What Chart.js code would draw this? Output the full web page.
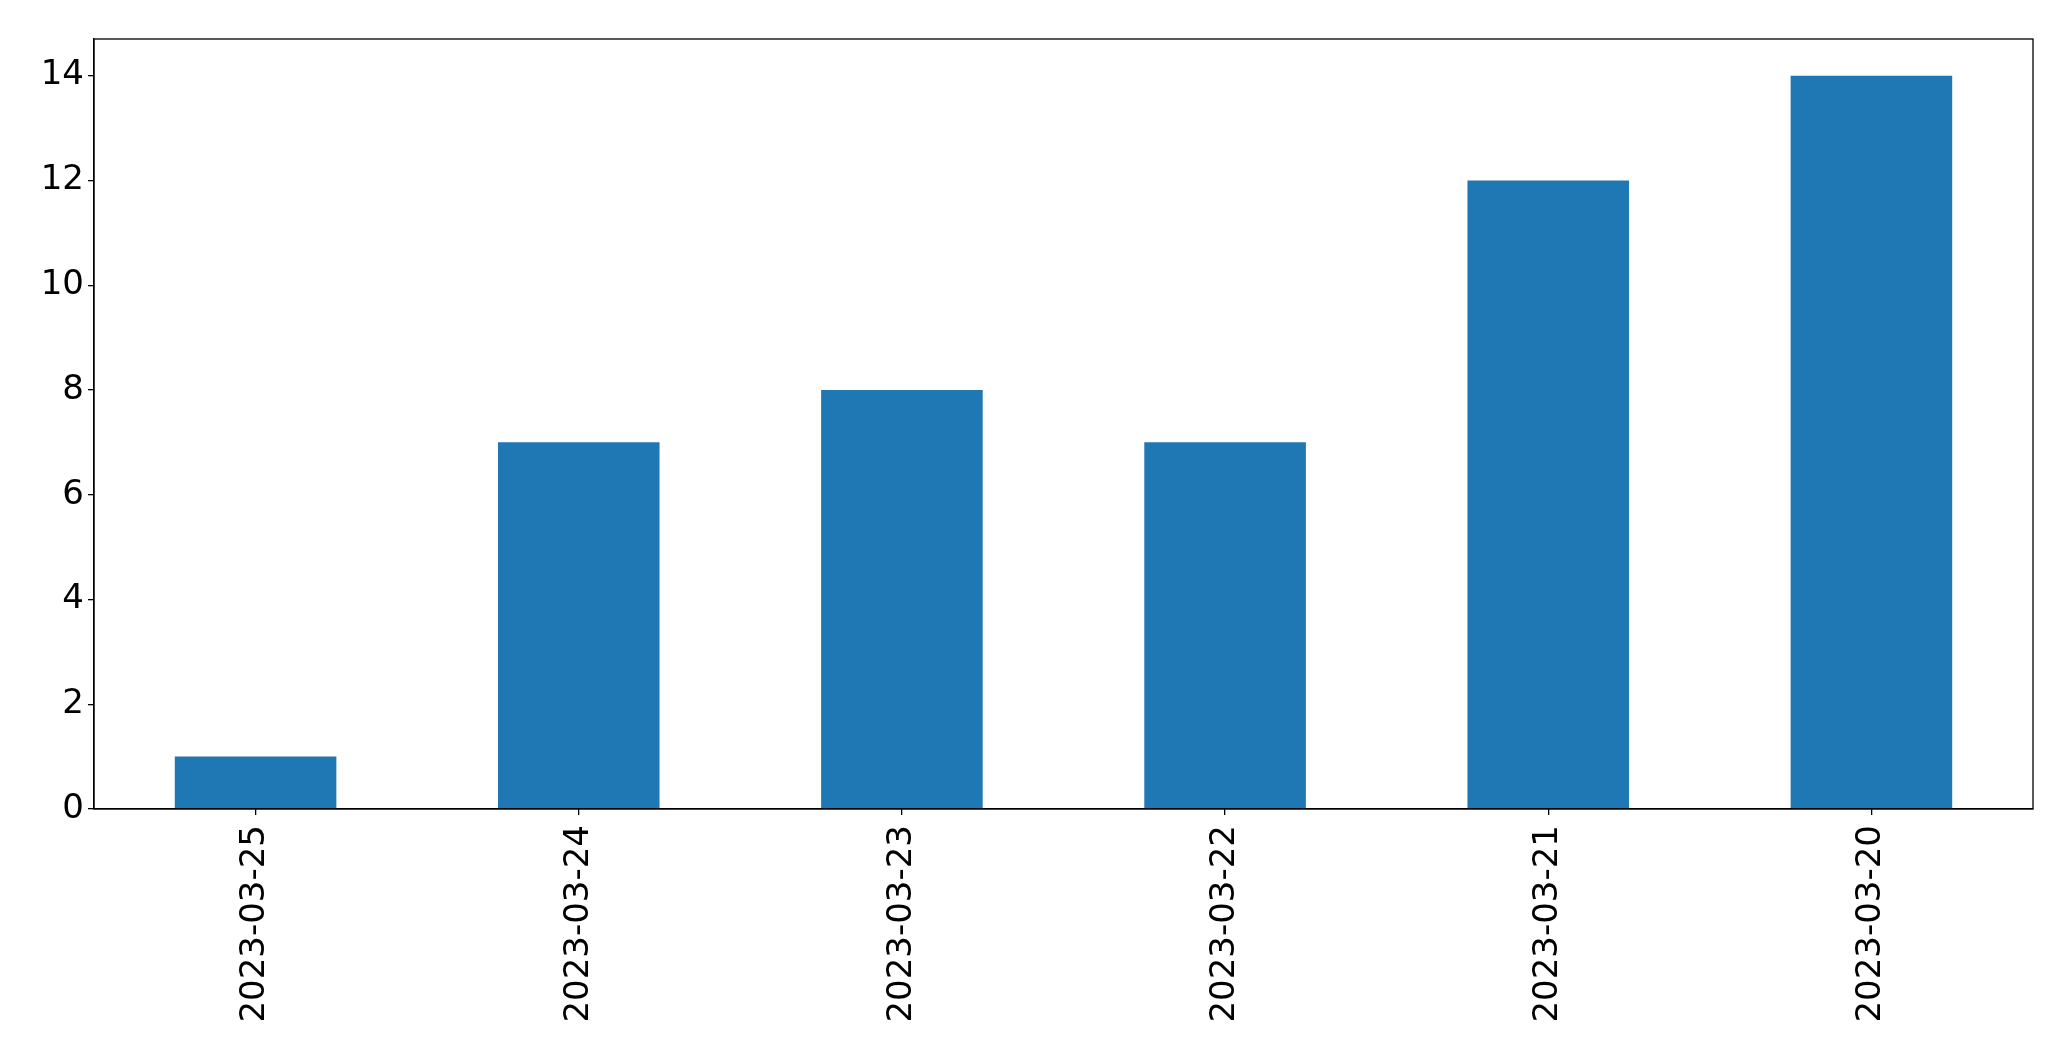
<!DOCTYPE html>
<html>
<head>
  <title>Daily counts</title>
  <script src="https://cdn.jsdelivr.net/npm/chart.js"></script>
  <style>
    html, body { margin: 0; padding: 0; background: #fff; }
    #wrap { width: 2071px; height: 1061px; }
  </style>
</head>
<body>
  <div id="wrap"><canvas id="chart"></canvas></div>

  <script>
    const dates = ['2023-03-25', '2023-03-24', '2023-03-23', '2023-03-22', '2023-03-21', '2023-03-20'];
    const counts = [1, 7, 8, 7, 12, 14];
    const yTicks = [0, 2, 4, 6, 8, 10, 12, 14];

    // matplotlib-style box around the plot area
    const frame = {
      id: 'frame',
      afterDraw(chart) {
        const a = chart.chartArea;
        const ctx = chart.ctx;
        ctx.save();
        ctx.strokeStyle = '#000';
        ctx.lineWidth = 1.3;
        ctx.strokeRect(a.left, a.top, a.right - a.left, a.bottom - a.top);
        ctx.restore();
      }
    };

    Chart.defaults.font.family = 'DejaVu Sans';
    Chart.defaults.font.size = 34;
    Chart.defaults.color = '#000';

    new Chart(document.getElementById('chart'), {
      type: 'bar',
      data: {
        labels: dates,
        datasets: [{
          data: counts,
          backgroundColor: '#1f77b4',
          borderWidth: 0,
          categoryPercentage: 1.0,
          barPercentage: 0.5
        }]
      },
      options: {
        animation: false,
        responsive: true,
        maintainAspectRatio: false,
        layout: { padding: { top: 39, right: 38, left: 0, bottom: 0 } },
        plugins: { legend: { display: false }, tooltip: { enabled: false } },
        scales: {
          x: {
            offset: true,
            grid: { offset: false, drawOnChartArea: false, tickLength: 6, color: '#000', lineWidth: 1.3 },
            border: { display: true, color: '#000', width: 1.3 },
            ticks: { minRotation: 90, maxRotation: 90, padding: 10 },
            afterFit(scale) { scale.height = 252; }
          },
          y: {
            min: 0,
            max: 14.7,
            afterBuildTicks(scale) { scale.ticks = yTicks.map(v => ({ value: v })); },
            grid: { drawOnChartArea: false, tickLength: 6, color: '#000', lineWidth: 1.3 },
            border: { display: true, color: '#000', width: 1.3 },
            ticks: { padding: 4 },
            afterFit(scale) { scale.width = 94; }
          }
        }
      },
      plugins: [frame]
    });
  </script>
</body>
</html>
